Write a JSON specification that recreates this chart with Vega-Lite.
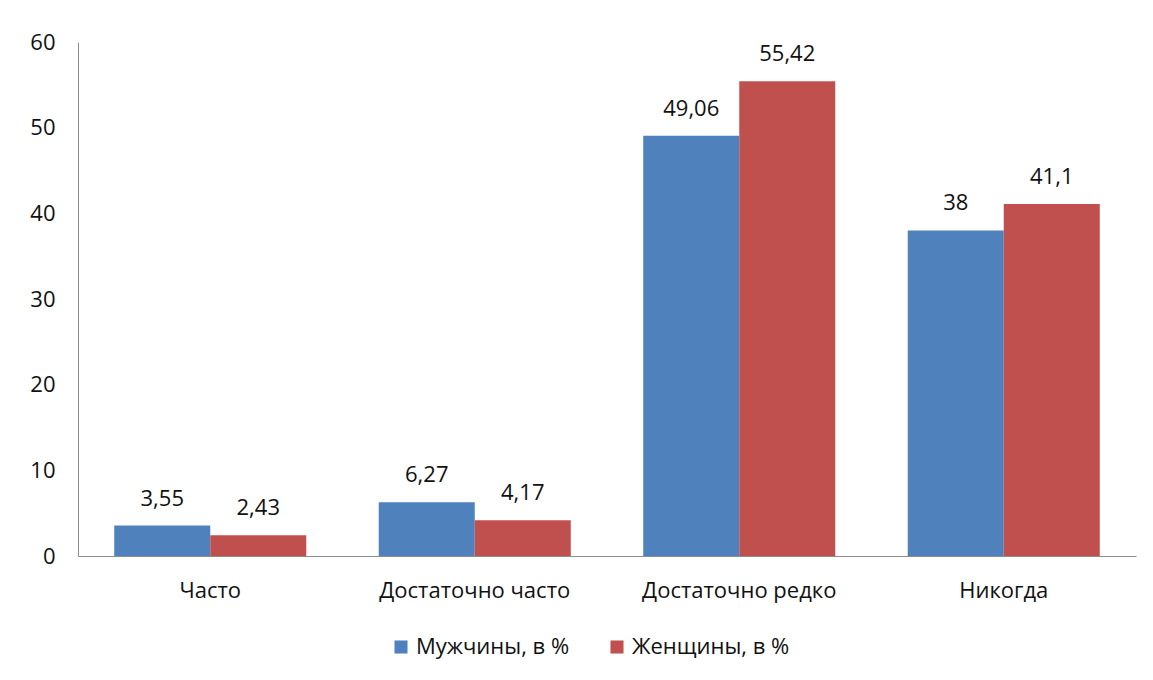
{
  "$schema": "https://vega.github.io/schema/vega-lite/v6.json",
  "width": 1058,
  "height": 514,
  "autosize": {"type": "none"},
  "padding": {"left": 78, "top": 42, "right": 17, "bottom": 124},
  "background": "white",
  "config": {
    "view": {"stroke": null},
    "font": "Open Sans",
    "locale": {"number": {"decimal": ",", "thousands": " ", "grouping": [3], "currency": ["", " ₽"]}}
  },
  "data": {
    "values": [
      {"cat": "Часто", "sex": "Мужчины, в %", "v": 3.55},
      {"cat": "Часто", "sex": "Женщины, в %", "v": 2.43},
      {"cat": "Достаточно часто", "sex": "Мужчины, в %", "v": 6.27},
      {"cat": "Достаточно часто", "sex": "Женщины, в %", "v": 4.17},
      {"cat": "Достаточно редко", "sex": "Мужчины, в %", "v": 49.06},
      {"cat": "Достаточно редко", "sex": "Женщины, в %", "v": 55.42},
      {"cat": "Никогда", "sex": "Мужчины, в %", "v": 38},
      {"cat": "Никогда", "sex": "Женщины, в %", "v": 41.1}
    ]
  },
  "encoding": {
    "x": {
      "field": "cat", "type": "nominal", "sort": null,
      "scale": {"paddingInner": 0.274, "paddingOuter": 0.137},
      "axis": {"title": null, "labelAngle": 0, "ticks": false, "domainColor": "#8c8c8c", "labelFontSize": 22, "labelColor": "#111111", "labelPadding": 24, "labelLimit": 400}
    },
    "xOffset": {"field": "sex", "type": "nominal", "sort": ["Мужчины, в %", "Женщины, в %"], "scale": {"paddingInner": 0, "paddingOuter": 0}},
    "y": {
      "field": "v", "type": "quantitative",
      "scale": {"domain": [0, 60], "nice": false},
      "axis": {"title": null, "values": [0, 10, 20, 30, 40, 50, 60], "grid": false, "ticks": false, "domainColor": "#8c8c8c", "labelFontSize": 22, "labelColor": "#111111", "labelPadding": 23}
    }
  },
  "layer": [
    {
      "mark": {"type": "bar"},
      "encoding": {
        "color": {
          "field": "sex", "type": "nominal", "sort": ["Мужчины, в %", "Женщины, в %"],
          "scale": {"domain": ["Мужчины, в %", "Женщины, в %"], "range": ["#4F81BD", "#C0504D"]},
          "legend": {"title": null, "orient": "none", "legendX": 312, "legendY": 594, "direction": "horizontal", "symbolType": "square", "symbolSize": 170, "symbolStrokeWidth": 0, "labelFontSize": 22, "labelColor": "#111111", "labelOffset": 4, "columnPadding": 36, "labelLimit": 300}
        }
      }
    },
    {
      "mark": {"type": "text", "baseline": "bottom", "dy": -15, "fontSize": 22, "color": "#111111"},
      "encoding": {
        "text": {"field": "v", "type": "quantitative", "format": "~g"}
      }
    }
  ]
}
